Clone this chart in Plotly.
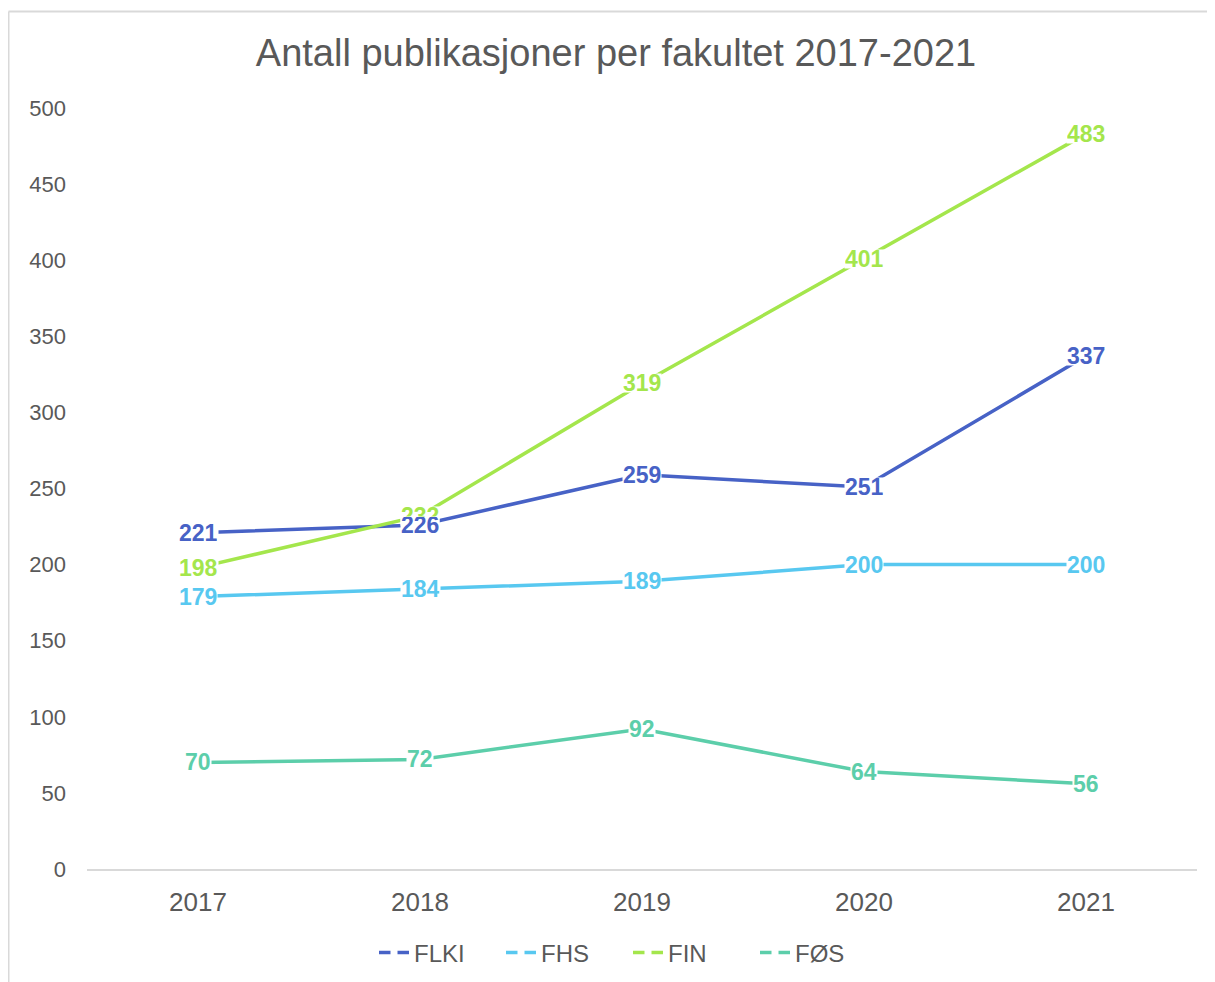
import plotly.graph_objects as go

years = ["2017", "2018", "2019", "2020", "2021"]
series_names = ["FLKI", "FHS", "FIN", "FØS"]
flki = [221, 226, 259, 251, 337]
fhs = [179, 184, 189, 200, 200]
fin = [198, 232, 319, 401, 483]
fos = [70, 72, 92, 64, 56]
y_ticks = [0, 50, 100, 150, 200, 250, 300, 350, 400, 450, 500]

colors = {"FLKI": "#4762C6", "FHS": "#58C8F0", "FIN": "#A4E64C", "FØS": "#5CCEAA"}
values = {"FLKI": flki, "FHS": fhs, "FIN": fin, "FØS": fos}

FONT = "Liberation Sans, Arial, sans-serif"
# page body has an 8px default margin; figure is sized to fill the rest
W, H = 1207, 974
L, R, T, B = 79, 18, 100, 113
pw, ph = W - L - R, H - T - B

fig = go.Figure()
for name in series_names:
    fig.add_trace(go.Scatter(x=years, y=values[name], mode="lines", name=name,
                             line=dict(color=colors[name], width=3.5),
                             showlegend=False, hoverinfo="x+y+name"))
for name in series_names:
    fig.add_trace(go.Scatter(x=[None], y=[None], mode="lines", name=name,
                             line=dict(color=colors[name], width=3.5, dash="11.5px,7px"),
                             showlegend=True))

# data labels (FIN first so FLKI labels sit on top where they overlap)
for name in ["FIN", "FHS", "FØS", "FLKI"]:
    for i, yv in enumerate(values[name]):
        box_h = 16 if (name == "FLKI" and i == 1) else 18
        fig.add_annotation(x=i, y=yv, xref="x", yref="y", text=f"<b>{yv}</b>", showarrow=False,
                           font=dict(family=FONT, size=23, color=colors[name]),
                           bgcolor="white", borderpad=0, height=box_h, valign="middle",
                           xanchor="center", yanchor="middle")

# outer chart border (only top and left edges visible)
bx = (0.5 - L) / pw
by = (H - B - 3.5) / ph
fig.add_shape(type="line", xref="paper", yref="paper", x0=bx, x1=(W + 20 - L) / pw, y0=by, y1=by,
              line=dict(color="#D9D9D9", width=2), layer="below")
fig.add_shape(type="line", xref="paper", yref="paper", x0=bx, x1=bx, y0=by, y1=-(B + 20) / ph,
              line=dict(color="#D9D9D9", width=2), layer="below")

fig.update_layout(
    width=W, height=H,
    margin=dict(l=L, r=R, t=T, b=B, autoexpand=False),
    paper_bgcolor="white", plot_bgcolor="white",
    font=dict(family=FONT, size=22, color="#595959"),
    title=dict(text="Antall publikasjoner per fakultet 2017-2021",
               x=608 / W, xanchor="center", xref="container",
               y=1 - 45 / H, yanchor="middle", yref="container",
               font=dict(family=FONT, size=38, color="#595959")),
    xaxis=dict(type="category", range=[-0.5, 4.5], showgrid=False, zeroline=False,
               showline=True, linecolor="#D9D9D9", linewidth=1.5,
               ticks="", ticklabelstandoff=9, automargin=False,
               tickfont=dict(family=FONT, size=26, color="#595959")),
    yaxis=dict(range=[0, 500], tickvals=y_ticks, showgrid=False, zeroline=False,
               showline=False, ticks="", ticklabelstandoff=20, automargin=False,
               tickfont=dict(family=FONT, size=22, color="#595959")),
    legend=dict(orientation="h", x=(620 - L) / pw, xanchor="center",
                y=-84 / ph, yanchor="middle",
                entrywidth=82, entrywidthmode="pixels",
                font=dict(family=FONT, size=24, color="#595959"),
                bgcolor="rgba(0,0,0,0)"),
    showlegend=True,
)

fig.write_html("out.html")
